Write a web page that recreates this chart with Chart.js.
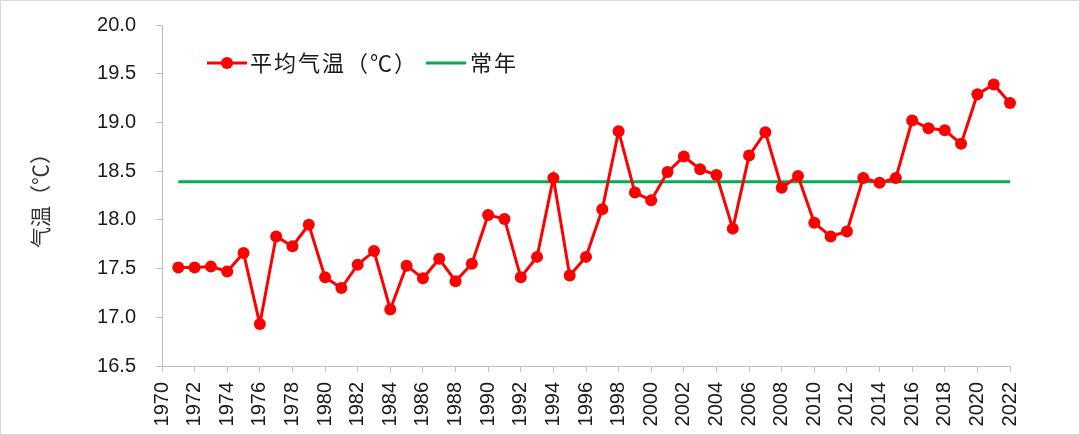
<!DOCTYPE html>
<html>
<head>
<meta charset="utf-8">
<script src="https://cdn.jsdelivr.net/npm/chart.js@4/dist/chart.umd.min.js"></script>
<style>
  html, body { margin: 0; padding: 0; background: #fff; }
  #wrap { width: 1080px; height: 435px; position: relative; }
</style>
</head>
<body>
<div id="wrap"><canvas id="c" width="1080" height="435"></canvas></div>
<script>
// ---- data ----
const years = [1971,1972,1973,1974,1975,1976,1977,1978,1979,1980,
               1981,1982,1983,1984,1985,1986,1987,1988,1989,1990,
               1991,1992,1993,1994,1995,1996,1997,1998,1999,2000,
               2001,2002,2003,2004,2005,2006,2007,2008,2009,2010,
               2011,2012,2013,2014,2015,2016,2017,2018,2019,2020,
               2021,2022];
const avgTemp = [17.51,17.51,17.52,17.47,17.66,16.93,17.83,17.73,17.95,17.41,
                 17.30,17.54,17.68,17.08,17.53,17.40,17.60,17.37,17.55,18.05,
                 18.01,17.41,17.62,18.43,17.43,17.62,18.11,18.91,18.28,18.20,
                 18.49,18.65,18.52,18.46,17.91,18.66,18.90,18.33,18.45,17.97,
                 17.83,17.88,18.43,18.38,18.43,19.02,18.94,18.92,18.78,19.29,
                 19.39,19.20];
const normalValue = 18.39;
const seriesNames = ['平均气温（℃）', '常年'];
const yAxisTitle = '气温（℃）';
const xRange = [1970, 2022];
const yRange = [16.5, 20.0];

const tempPoints = years.map((y, i) => ({ x: y, y: avgTemp[i] }));
const normalPoints = [{ x: years[0], y: normalValue }, { x: years[years.length - 1], y: normalValue }];

const RED = '#FF0000';
const GREEN = '#00B050';
const AXIS = '#BFBFBF';
const TXT = '#1a1a1a';

const bgPlugin = {
  id: 'bg',
  beforeDraw(chart) {
    const ctx = chart.ctx;
    ctx.save();
    ctx.fillStyle = '#fff';
    ctx.fillRect(0, 0, chart.width, chart.height);
    ctx.strokeStyle = '#D9D9D9';
    ctx.lineWidth = 1;
    ctx.strokeRect(0.5, 0.5, chart.width - 1, chart.height - 1);
    ctx.restore();
  }
};

const legendPlugin = {
  id: 'customLegend',
  afterDraw(chart) {
    const ctx = chart.ctx;
    ctx.save();
    const y = 63;
    ctx.lineWidth = 3;
    ctx.strokeStyle = RED;
    ctx.beginPath(); ctx.moveTo(207, y); ctx.lineTo(247, y); ctx.stroke();
    ctx.fillStyle = RED;
    ctx.beginPath(); ctx.arc(227, y, 6, 0, Math.PI * 2); ctx.fill();
    ctx.font = '22px "Noto Sans CJK SC"';
    ctx.letterSpacing = '2px';
    ctx.fillStyle = TXT;
    ctx.textBaseline = 'middle';
    ctx.textAlign = 'left';
    ctx.fillText(seriesNames[0], 250, y);
    ctx.strokeStyle = GREEN;
    ctx.beginPath(); ctx.moveTo(426, y); ctx.lineTo(466, y); ctx.stroke();
    ctx.fillText(seriesNames[1], 470, y);
    ctx.restore();
  }
};

new Chart(document.getElementById('c'), {
  type: 'line',
  data: {
    datasets: [
      {
        label: seriesNames[0],
        data: tempPoints,
        borderColor: RED,
        backgroundColor: RED,
        borderWidth: 3,
        pointRadius: 6,
        pointHoverRadius: 6,
        pointBackgroundColor: RED,
        pointBorderColor: RED,
        pointBorderWidth: 0,
        tension: 0,
        clip: false,
        order: 1
      },
      {
        label: seriesNames[1],
        data: normalPoints,
        borderColor: GREEN,
        backgroundColor: GREEN,
        borderWidth: 3,
        pointRadius: 0,
        tension: 0,
        clip: false,
        order: 2
      }
    ]
  },
  options: {
    responsive: false,
    animation: false,
    events: [],
    layout: { padding: { left: 0, right: 70, top: 25, bottom: 0 } },
    plugins: { legend: { display: false }, tooltip: { enabled: false } },
    scales: {
      x: {
        type: 'linear',
        min: xRange[0],
        max: xRange[1],
        ticks: {
          stepSize: 2,
          autoSkip: false,
          minRotation: 90,
          maxRotation: 90,
          color: TXT,
          font: { family: '"Liberation Sans"', size: 20 },
          padding: 10,
          callback: v => String(v)
        },
        grid: { drawOnChartArea: false, drawTicks: true, tickLength: 6, color: AXIS, tickColor: AXIS },
        border: { display: true, color: AXIS, width: 1 },
        afterFit(scale) {
          scale.height = 69;
          scale.paddingLeft = 0; scale.paddingRight = 0;
          scale.paddingTop = 0; scale.paddingBottom = 0;
        }
      },
      y: {
        type: 'linear',
        min: yRange[0],
        max: yRange[1],
        ticks: {
          stepSize: 0.5,
          color: TXT,
          font: { family: '"Liberation Sans"', size: 20 },
          padding: 20,
          callback: v => Number(v).toFixed(1)
        },
        grid: { drawOnChartArea: false, drawTicks: true, tickLength: 6, color: AXIS, tickColor: AXIS },
        border: { display: true, color: AXIS, width: 1 },
        title: {
          display: true,
          text: yAxisTitle,
          color: '#333333',
          font: { family: '"Noto Sans CJK SC"', size: 21 },
          padding: { top: 27, bottom: 4 }
        },
        afterFit(scale) {
          scale.width = 162;
          scale.paddingLeft = 0; scale.paddingRight = 0;
          scale.paddingTop = 0; scale.paddingBottom = 0;
        }
      }
    }
  },
  plugins: [bgPlugin, legendPlugin]
});
</script>
</body>
</html>
